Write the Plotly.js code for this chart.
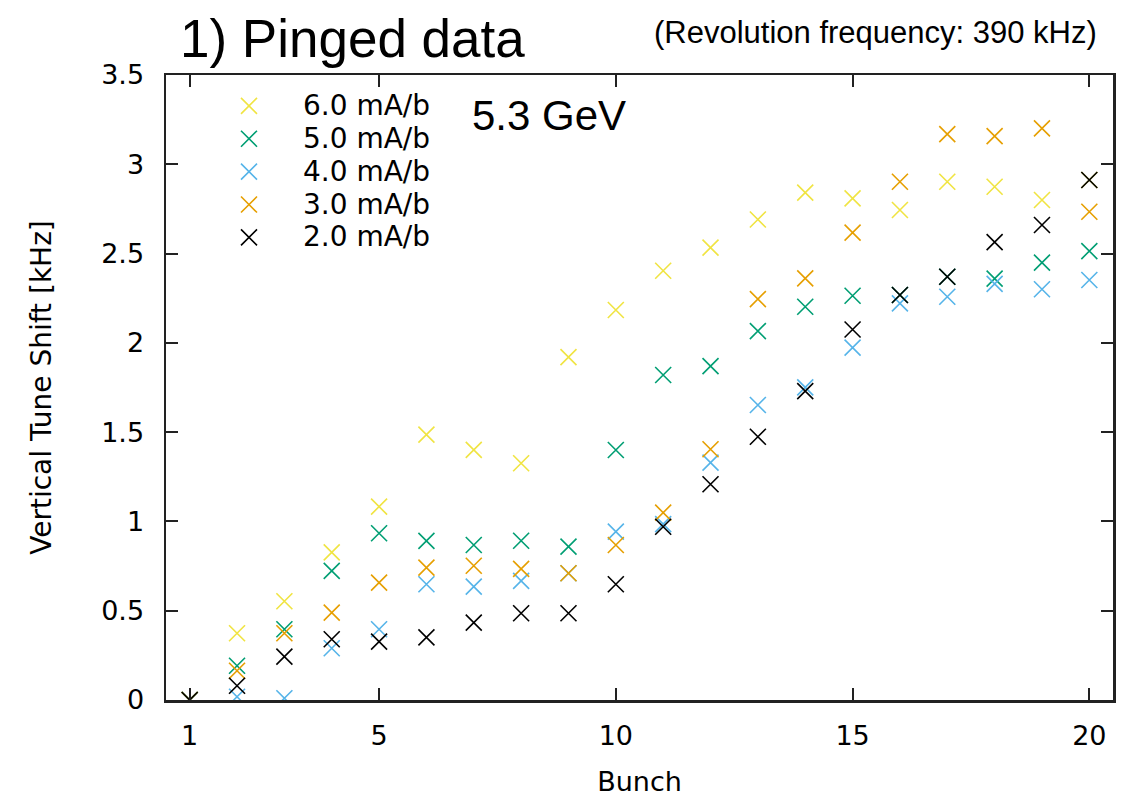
<!DOCTYPE html>
<html>
<head>
<meta charset="utf-8">
<script src="https://cdn.plot.ly/plotly-3.0.1.min.js"></script>
<style>
  html, body { margin: 0; padding: 0; background: #fff; }
  #plot { width: 1140px; height: 797px; }
</style>
</head>
<body>
<div id="plot"></div>
<script>
// bunch number along the train
const bunch = [1, 2, 3, 4, 5, 6, 7, 8, 9, 10, 11, 12, 13, 14, 15, 16, 17, 18, 19, 20];

// vertical tune shift [kHz] per bunch current
const shift60 = [0, 0.374, 0.553, 0.827, 1.083, 1.486, 1.401, 1.326, 1.92, 2.184, 2.404, 2.533, 2.691, 2.841, 2.809, 2.744, 2.902, 2.874, 2.800, 2.912];
const shift50 = [0, 0.192, 0.396, 0.723, 0.934, 0.891, 0.868, 0.892, 0.859, 1.400, 1.82, 1.87, 2.066, 2.202, 2.264, 2.268, 2.370, 2.36, 2.449, 2.514];
const shift40 = [0, 0.018, 0.01, 0.290, 0.396, 0.648, 0.635, 0.667, 0.71, 0.943, 0.985, 1.329, 1.652, 1.751, 1.973, 2.221, 2.258, 2.33, 2.300, 2.352];
const shift30 = [0, 0.164, 0.374, 0.489, 0.657, 0.741, 0.752, 0.734, 0.71, 0.868, 1.049, 1.404, 2.245, 2.361, 2.617, 2.902, 3.169, 3.158, 3.201, 2.734];
const shift20 = [0, 0.080, 0.243, 0.340, 0.327, 0.351, 0.433, 0.486, 0.486, 0.648, 0.970, 1.208, 1.474, 1.730, 2.075, 2.268, 2.370, 2.564, 2.660, 2.912];

const names = ['6.0 mA/b', '5.0 mA/b', '4.0 mA/b', '3.0 mA/b', '2.0 mA/b'];
const series = [shift60, shift50, shift40, shift30, shift20];
const colors = ['#f0e442', '#009e73', '#56b4e9', '#e69f00', '#000000'];

const xTicks = [1, 5, 10, 15, 20];

const sans = 'DejaVu Sans, sans-serif';
const arial = 'Liberation Sans, Arial, sans-serif';

var data = series.map(function (ys, i) {
  return {
    x: bunch,
    y: ys,
    // legend rows are spaced from the legend font size, so the label itself gets a bigger span
    name: '<span style="font-size:28px">' + names[i] + '</span>',
    mode: 'markers',
    type: 'scatter',
    marker: {
      symbol: 'x-thin',
      size: 16,
      color: colors[i],
      line: { color: colors[i], width: 1.6 }
    }
  };
});

var axisStyle = {
  showgrid: false,
  zeroline: false,
  showline: true,
  linecolor: '#222',
  linewidth: 2.5,
  mirror: 'allticks',
  ticks: 'inside',
  ticklen: 12,
  tickwidth: 2,
  tickcolor: '#222',
  tickfont: { family: sans, size: 27, color: '#000' }
};

var layout = {
  width: 1140,
  height: 797,
  margin: { l: 166, r: 27, t: 75, b: 97 },
  paper_bgcolor: '#fff',
  plot_bgcolor: '#fff',
  showlegend: true,
  title: {
    text: '1) Pinged data',
    font: { family: arial, size: 53, color: '#000' },
    xref: 'container',
    x: 180 / 1140,
    xanchor: 'left',
    yref: 'container',
    y: 1 - 38.6 / 797,
    yanchor: 'middle'
  },
  xaxis: Object.assign({}, axisStyle, {
    range: [0.5, 20.5],
    tickmode: 'array',
    tickvals: xTicks,
    ticktext: xTicks.map(String),
    ticklabelstandoff: 10,
    title: { text: 'Bunch', font: { family: sans, size: 27, color: '#000' }, standoff: 22 }
  }),
  yaxis: Object.assign({}, axisStyle, {
    range: [0, 3.5],
    dtick: 0.5,
    tick0: 0,
    ticklabelstandoff: 14,
    title: { text: 'Vertical Tune Shift [kHz]', font: { family: sans, size: 28, color: '#000' }, standoff: 42 }
  }),
  legend: {
    x: (195 - 166) / 947,
    y: 0.985,
    xanchor: 'left',
    yanchor: 'top',
    bgcolor: 'rgba(0,0,0,0)',
    itemwidth: 98,
    tracegroupgap: 0,
    font: { family: sans, size: 23, color: '#000' }
  },
  annotations: [
    {
      text: '(Revolution frequency: 390 kHz)',
      xref: 'paper', yref: 'paper',
      x: (1099 - 166) / 947, y: (700 - 32.3) / 625,
      xanchor: 'right', yanchor: 'middle',
      showarrow: false,
      font: { family: arial, size: 31, color: '#000' }
    },
    {
      text: '5.3 GeV',
      xref: 'paper', yref: 'paper',
      x: (470 - 166) / 947, y: (700 - 115.4) / 625,
      xanchor: 'left', yanchor: 'middle',
      showarrow: false,
      font: { family: arial, size: 42, color: '#000' }
    }
  ]
};

Plotly.newPlot('plot', data, layout, { displayModeBar: false, staticPlot: true });
</script>
</body>
</html>
